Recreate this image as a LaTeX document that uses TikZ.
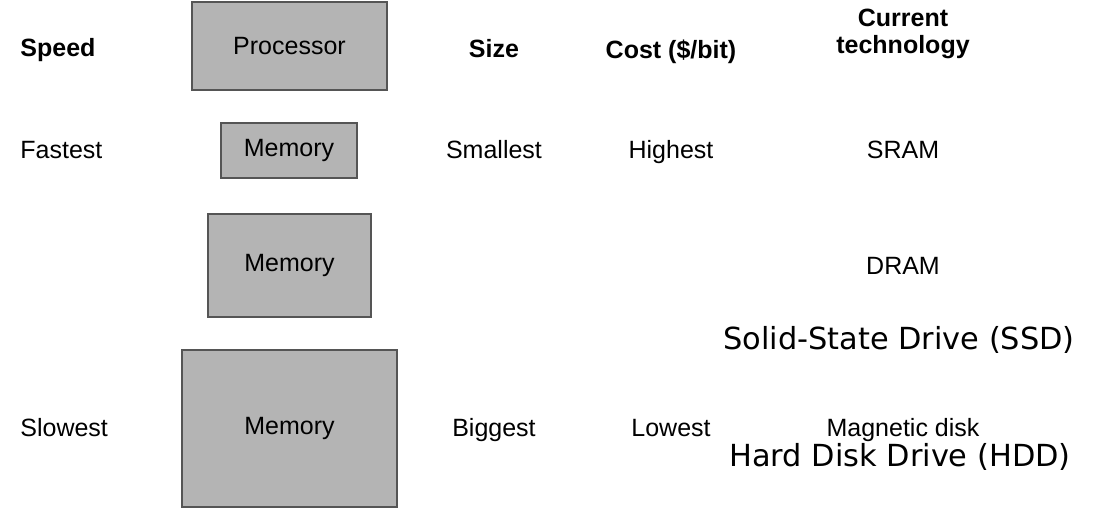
\documentclass[tikz,border=0pt]{standalone}
\usepackage{fontspec}
\setmainfont{Liberation Sans}
\newfontfamily\drivefont{DejaVu Sans}
\usetikzlibrary{positioning}
\definecolor{blockfill}{HTML}{B4B4B4}
\definecolor{blockline}{HTML}{555555}
\tikzset{
  memblock/.style={rectangle, draw=blockline, fill=blockfill, line width=1pt,
    inner sep=0pt, font=\fontsize{12.5}{15}\selectfont},
  colhead/.style={font=\fontsize{12.5}{13.5}\selectfont\bfseries, inner sep=0pt,
    anchor=base, align=center},
  celltext/.style={font=\fontsize{12.5}{15}\selectfont, inner sep=0pt, anchor=base},
  drivetext/.style={font=\drivefont\fontsize{15.2}{18}\selectfont, inner sep=0pt,
    anchor=base},
}

\begin{document}
\begin{tikzpicture}[x=0.5pt, y=-0.5pt]
\useasboundingbox (0,0) rectangle (1098,520);
% hierarchy of blocks
\node[memblock, minimum width=97.5pt, minimum height=44pt] (cpu) at (289.5,46) {Processor};
\node[memblock, minimum width=68pt, minimum height=27.5pt] (memone) at (289,150.5) {Memory};
\node[memblock, minimum width=81.5pt, minimum height=51.5pt] (memtwo) at (289.5,265.5) {Memory};
\node[memblock, minimum width=107.5pt, minimum height=78.5pt] (memthree) at (289.5,428.5) {Memory};
% column headers
\node[colhead, anchor=base west] (hspeed) at (20,56) {Speed};
\node[colhead] (hsize) at (494,57) {Size};
\node[colhead] (hcost) at (671,58) {Cost (\$/bit)};
\node[colhead, anchor=center] (htech) at (903,34) {Current\\technology};
% top row
\node[celltext, anchor=base west] (fast) at (20,158) {Fastest};
\node[celltext] (small) at (494,158) {Smallest};
\node[celltext] (high) at (671,158) {Highest};
\node[celltext] (sram) at (903,158) {SRAM};
% middle row
\node[celltext] (dram) at (903,274) {DRAM};
\node[drivetext] (ssd) at (899,349) {Solid-State Drive (SSD)};
% bottom row
\node[celltext, anchor=base west] (slow) at (20,436) {Slowest};
\node[celltext] (big) at (494,436) {Biggest};
\node[celltext] (low) at (671,436) {Lowest};
\node[celltext] (magdisk) at (903,436) {Magnetic disk};
\node[drivetext] (hdd) at (900,466) {Hard Disk Drive (HDD)};
\end{tikzpicture}
\end{document}
